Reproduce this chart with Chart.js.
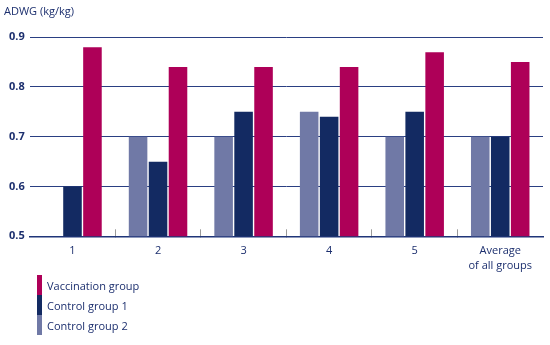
<!DOCTYPE html>
<html>
<head>
<meta charset="utf-8">
<script src="https://cdn.jsdelivr.net/npm/chart.js@4/dist/chart.umd.min.js"></script>
<style>
  body { margin: 0; background: #fff; }
  #wrap { position: relative; width: 550px; height: 345px; }
  #chart { position: absolute; left: 0; top: 0; }
  #legend { position: absolute; left: 37px; top: 275px; font: 11px 'Open Sans', sans-serif; color: #1c2f6e; }
  .item { display: flex; align-items: center; height: 20px; }
  .swatch { width: 5px; height: 20px; margin-right: 5px; }
</style>
</head>
<body>
<div id="wrap">
  <canvas id="chart" width="550" height="287"></canvas>
  <div id="legend"></div>
</div>
<script>
const categories = ['1', '2', '3', '4', '5', ['Average', 'of all groups']];
const control2 = [null, 0.70, 0.70, 0.75, 0.70, 0.70];
const control1 = [0.60, 0.65, 0.75, 0.74, 0.75, 0.70];
const vaccination = [0.88, 0.84, 0.84, 0.84, 0.87, 0.85];
const yTicks = [0.5, 0.6, 0.7, 0.8, 0.9];

const navy = '#1c2f6e';
const font = { family: "'Open Sans', sans-serif", size: 11 };

const datasets = [
    { label: 'Control group 2', data: control2, backgroundColor: '#7079a6' },
    { label: 'Control group 1', data: control1, backgroundColor: '#132a62' },
    { label: 'Vaccination group', data: vaccination, backgroundColor: '#ae0058' }
];

const chart = new Chart(document.getElementById('chart'), {
    type: 'bar',
    data: { labels: categories, datasets: datasets },
    options: {
        responsive: false,
        animation: false,
        layout: { padding: { left: 4, right: 7 } },
        datasets: { bar: { categoryPercentage: 0.7, barPercentage: 0.93 } },
        plugins: {
            legend: { display: false },
            tooltip: { enabled: false },
            title: {
                display: true,
                text: 'ADWG (kg/kg)',
                align: 'start',
                color: navy,
                font: { family: font.family, size: 11, weight: 'normal' },
                padding: { top: 5, bottom: 19 }
            }
        },
        scales: {
            x: {
                offset: true,
                border: { display: true, color: '#1f3579', width: 1.5 },
                grid: {
                    offset: true,
                    drawOnChartArea: false,
                    drawTicks: true,
                    tickLength: -7,
                    color: ctx => (ctx.type !== 'tick' || ctx.index === 0) ? 'rgba(0,0,0,0)' : '#9a9a9a'
                },
                ticks: { color: navy, font: { family: font.family, size: 11, lineHeight: 1.35 }, padding: 14, maxRotation: 0 }
            },
            y: {
                min: 0.5,
                max: 0.9,
                border: { display: false },
                grid: { color: '#2a3f82', lineWidth: 1, drawTicks: false },
                afterBuildTicks: axis => { axis.ticks = yTicks.map(v => ({ value: v })); },
                ticks: {
                    color: navy,
                    font: { family: font.family, size: 11, weight: 'bold' },
                    padding: 5,
                    callback: v => v.toFixed(1)
                }
            }
        }
    }
});

// legend listed top to bottom: vaccination, control 1, control 2
const legend = document.getElementById('legend');
datasets.slice().reverse().forEach(ds => {
    const row = document.createElement('div');
    row.className = 'item';
    row.innerHTML = `<span class="swatch" style="background:${ds.backgroundColor}"></span><span>${ds.label}</span>`;
    legend.appendChild(row);
});
</script>
</body>
</html>
